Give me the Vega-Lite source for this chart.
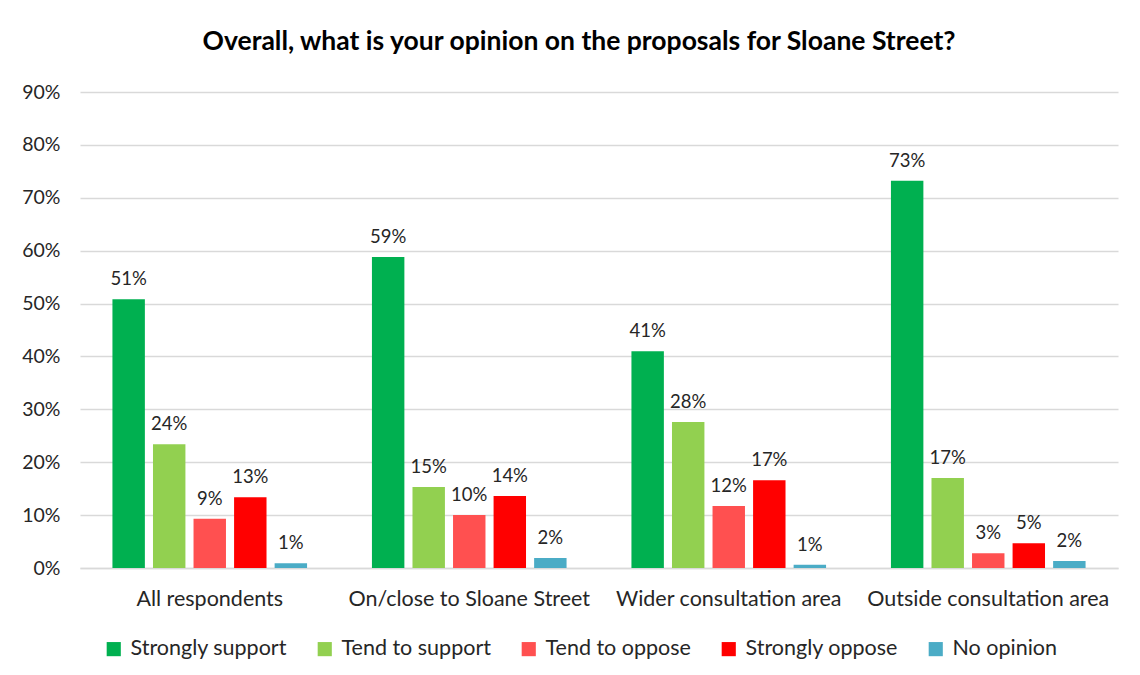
{
  "$schema": "https://vega.github.io/schema/vega-lite/v6.json",
  "width": 1038,
  "height": 476,
  "autosize": {"type": "none"},
  "padding": {"left": 80, "top": 92, "right": 22, "bottom": 107},
  "background": "white",
  "title": {
    "text": "Overall, what is your opinion on the proposals for Sloane Street?",
    "font": "Lato",
    "fontSize": 26.5,
    "fontWeight": "bold",
    "color": "#000000",
    "anchor": "middle",
    "dx": -20,
    "offset": 27
  },
  "data": {
    "values": [
      {"area": "All respondents", "opinion": "Strongly support", "value": 0.508, "label": "51%"},
      {"area": "All respondents", "opinion": "Tend to support", "value": 0.234, "label": "24%"},
      {"area": "All respondents", "opinion": "Tend to oppose", "value": 0.093, "label": "9%"},
      {"area": "All respondents", "opinion": "Strongly oppose", "value": 0.134, "label": "13%"},
      {"area": "All respondents", "opinion": "No opinion", "value": 0.009, "label": "1%"},
      {"area": "On/close to Sloane Street", "opinion": "Strongly support", "value": 0.588, "label": "59%"},
      {"area": "On/close to Sloane Street", "opinion": "Tend to support", "value": 0.153, "label": "15%"},
      {"area": "On/close to Sloane Street", "opinion": "Tend to oppose", "value": 0.100, "label": "10%"},
      {"area": "On/close to Sloane Street", "opinion": "Strongly oppose", "value": 0.136, "label": "14%"},
      {"area": "On/close to Sloane Street", "opinion": "No opinion", "value": 0.019, "label": "2%"},
      {"area": "Wider consultation area", "opinion": "Strongly support", "value": 0.410, "label": "41%"},
      {"area": "Wider consultation area", "opinion": "Tend to support", "value": 0.276, "label": "28%"},
      {"area": "Wider consultation area", "opinion": "Tend to oppose", "value": 0.117, "label": "12%"},
      {"area": "Wider consultation area", "opinion": "Strongly oppose", "value": 0.166, "label": "17%"},
      {"area": "Wider consultation area", "opinion": "No opinion", "value": 0.006, "label": "1%"},
      {"area": "Outside consultation area", "opinion": "Strongly support", "value": 0.732, "label": "73%"},
      {"area": "Outside consultation area", "opinion": "Tend to support", "value": 0.170, "label": "17%"},
      {"area": "Outside consultation area", "opinion": "Tend to oppose", "value": 0.028, "label": "3%"},
      {"area": "Outside consultation area", "opinion": "Strongly oppose", "value": 0.047, "label": "5%"},
      {"area": "Outside consultation area", "opinion": "No opinion", "value": 0.013, "label": "2%"}
    ]
  },
  "encoding": {
    "x": {
      "field": "area",
      "type": "nominal",
      "sort": null,
      "scale": {"paddingInner": 0, "paddingOuter": 0},
      "axis": {
        "title": null,
        "labelAngle": 0,
        "labelFont": "Lato",
        "labelFontSize": 21.5,
        "labelLimit": 400,
        "labelColor": "#262626",
        "labelPadding": 20,
        "ticks": false,
        "domainColor": "#D9D9D9",
        "domainWidth": 1.5
      }
    },
    "xOffset": {
      "field": "opinion",
      "type": "nominal",
      "sort": ["Strongly support", "Tend to support", "Tend to oppose", "Strongly oppose", "No opinion"],
      "scale": {"paddingInner": 0.2, "paddingOuter": 0.8}
    },
    "y": {
      "field": "value",
      "type": "quantitative",
      "scale": {"domain": [0, 0.9], "nice": false},
      "axis": {
        "title": null,
        "format": ".0%",
        "values": [0, 0.1, 0.2, 0.3, 0.4, 0.5, 0.6, 0.7, 0.8, 0.9],
        "labelOverlap": false,
        "labelFont": "Lato",
        "labelFontSize": 19.5,
        "labelColor": "#262626",
        "labelPadding": 20,
        "ticks": false,
        "domain": false,
        "gridColor": "#D9D9D9",
        "gridWidth": 1.5
      }
    }
  },
  "layer": [
    {
      "mark": {"type": "bar"},
      "encoding": {
        "color": {
          "field": "opinion",
          "type": "nominal",
          "scale": {
            "domain": ["Strongly support", "Tend to support", "Tend to oppose", "Strongly oppose", "No opinion"],
            "range": ["#00B050", "#92D050", "#FF5050", "#FF0000", "#4BACC6"]
          },
          "legend": {
            "title": null,
            "orient": "none",
            "direction": "horizontal",
            "legendX": 23,
            "legendY": 546,
            "symbolType": "square",
            "symbolSize": 200,
            "symbolStrokeWidth": 0,
            "symbolOpacity": 1,
            "labelFont": "Lato",
            "labelFontSize": 21.5,
            "labelLimit": 400,
            "labelColor": "#262626",
            "columnPadding": 27,
            "labelOffset": 6
          }
        }
      }
    },
    {
      "mark": {"type": "text", "baseline": "bottom", "dy": -10, "font": "Lato", "fontSize": 18.5, "color": "#262626"},
      "encoding": {
        "text": {"field": "label"}
      }
    }
  ],
  "config": {
    "view": {"stroke": null}
  }
}
